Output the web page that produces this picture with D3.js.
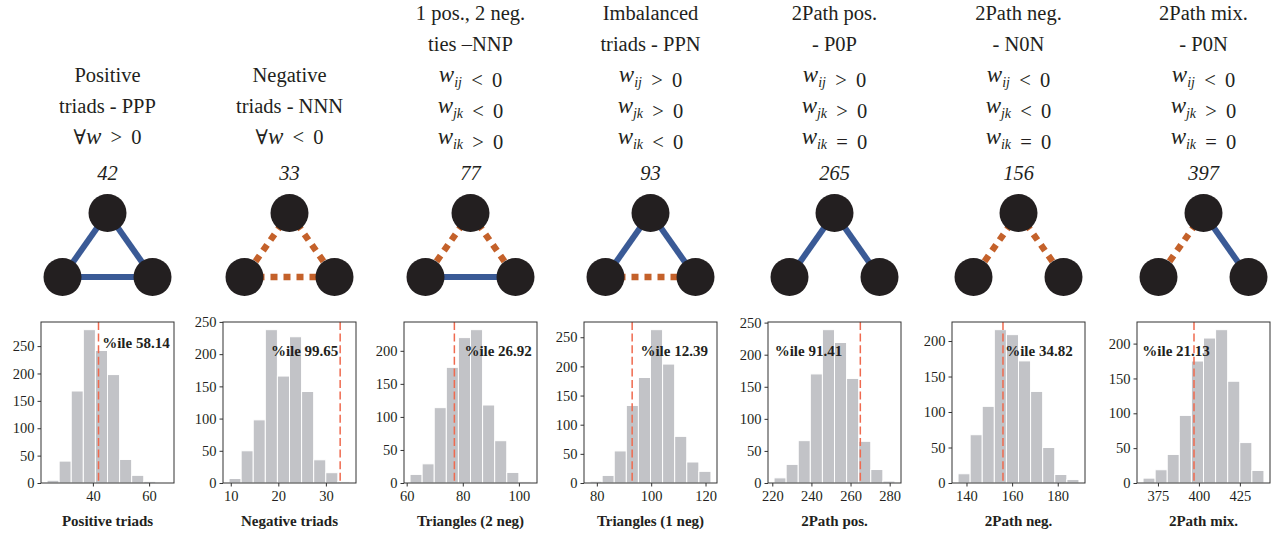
<!DOCTYPE html>
<html>
<head>
<meta charset="utf-8">
<script src="https://cdn.jsdelivr.net/npm/d3@7"></script>
<style>
  body { margin: 0; background: #fff; }
  text { font-family: "Liberation Serif", "DejaVu Serif", serif; fill: #231f20; }
</style>
</head>
<body>
<svg id="chart"></svg>
<script>
// titles above each triad (math lines use w_xy for subscripts)
const titles = [
  ["Positive", "triads - PPP", "∀w > 0"],
  ["Negative", "triads - NNN", "∀w < 0"],
  ["1 pos., 2 neg.", "ties –NNP", "w_ij < 0", "w_jk < 0", "w_ik > 0"],
  ["Imbalanced", "triads - PPN", "w_ij > 0", "w_jk > 0", "w_ik < 0"],
  ["2Path pos.", "- P0P", "w_ij > 0", "w_jk > 0", "w_ik = 0"],
  ["2Path neg.", "- N0N", "w_ij < 0", "w_jk < 0", "w_ik = 0"],
  ["2Path mix.", "- P0N", "w_ij < 0", "w_jk > 0", "w_ik = 0"]
];
const observed = [42, 33, 77, 93, 265, 156, 397];
const percentiles = ["58.14", "99.65", "26.92", "12.39", "91.41", "34.82", "21.13"];
const xLabels = ["Positive triads", "Negative triads", "Triangles (2 neg)", "Triangles (1 neg)",
                 "2Path pos.", "2Path neg.", "2Path mix."];
// edge signs: ij (top-left), jk (top-right), ik (bottom)
const edgeSigns = [
  ["P", "P", "P"], ["N", "N", "N"], ["N", "N", "P"], ["P", "P", "N"],
  ["P", "P", "0"], ["N", "N", "0"], ["N", "P", "0"]
];
// histogram of the null model
const binLo = [23.7, 9.64, 61.2, 77.5, 220.9, 136.3, 365.9];
const binHi = [66.7, 35.06, 104.3, 122, 282.7, 189.3, 439.7];
const counts = [
  [5, 40, 168, 280, 242, 198, 43, 14, 3, 1],
  [7, 50, 98, 238, 166, 227, 142, 36, 16, 2],
  [13, 29, 114, 175, 220, 232, 118, 64, 16, 2],
  [3, 13, 55, 133, 181, 263, 204, 80, 36, 20],
  [8, 29, 66, 170, 239, 219, 163, 65, 21, 3],
  [13, 68, 108, 216, 209, 172, 129, 50, 12, 5],
  [7, 19, 41, 97, 175, 208, 220, 146, 58, 18]
];
const xTicks = [[40, 60], [10, 20, 30], [60, 80, 100], [80, 100, 120],
                [220, 240, 260, 280], [140, 160, 180], [375, 400, 425]];
const yTicks = [
  [0, 50, 100, 150, 200, 250], [0, 50, 100, 150, 200, 250], [0, 50, 100, 150, 200],
  [0, 50, 100, 150, 200, 250], [0, 50, 100, 150, 200, 250], [0, 50, 100, 150, 200],
  [0, 50, 100, 150, 200]
];

// layout
const panelLeft = [41, 223, 404, 584, 768, 952, 1137];
const panelW = 133, plotTop = 322, plotBottom = 483;
const labelFx = [0.46, 0.36, 0.454, 0.424, 0.05, 0.40, 0.04];
const labelFy = [0.84, 0.79, 0.79, 0.79, 0.79, 0.79, 0.79];
const blue = "#3a5a96", orange = "#c4612a", nodeCol = "#231f20";

const svg = d3.select('#chart')
  .attr('width', 1274)
  .attr('height', 535);

function mathLine(textEl, str) {
  const isMath = /w/.test(str) && /[<>=]/.test(str);
  const parts = str.split(/(w_[a-z]+|w)/).filter(s => s.length);
  parts.forEach(p => {
    if (p.startsWith("w_")) {
      textEl.append("tspan").attr("font-style", "italic").attr("font-size", 23).text("w");
      textEl.append("tspan").attr("font-style", "italic").attr("font-size", 14)
        .attr("dy", 5).text(p.slice(2));
      textEl.append("tspan").attr("dy", -5).text("");
    } else if (p === "w" && isMath) {
      textEl.append("tspan").attr("font-style", "italic").attr("font-size", 23).text("w");
    } else {
      textEl.append("tspan").text(isMath ? p.replace(/ /g, "\u2005\u2009") : p);
    }
  });
}

titles.forEach((lines, i) => {
  const cx = panelLeft[i] + panelW / 2;
  const g = svg.append("g");

  // title lines, the last one ends at y=144
  lines.forEach((ln, k) => {
    const t = g.append("text")
      .attr("x", cx)
      .attr("y", 144 - (lines.length - 1 - k) * 31)
      .attr("text-anchor", "middle")
      .attr("font-size", 20.5);
    mathLine(t, ln);
  });
  g.append("text")
    .attr("x", cx).attr("y", 180)
    .attr("text-anchor", "middle")
    .attr("font-size", 20.5)
    .attr("font-style", "italic")
    .text(observed[i]);

  // triad
  const nodes = [[cx, 213], [cx - 45, 277], [cx + 45, 277]];
  const pairs = [[0, 1], [0, 2], [1, 2]];
  pairs.forEach((pr, k) => {
    const s = edgeSigns[i][k];
    if (s === "0") return;
    g.append("line")
      .attr("x1", nodes[pr[0]][0]).attr("y1", nodes[pr[0]][1])
      .attr("x2", nodes[pr[1]][0]).attr("y2", nodes[pr[1]][1])
      .attr("stroke", s === "P" ? blue : orange)
      .attr("stroke-width", s === "P" ? 6 : 6.5)
      .attr("stroke-dasharray", s === "P" ? null : "7,6");
  });
  g.selectAll("circle.node")
    .data(nodes)
    .enter()
    .append("circle")
    .attr("cx", d => d[0]).attr("cy", d => d[1])
    .attr("r", 19)
    .attr("fill", nodeCol);

  // histogram
  const lo = binLo[i], hi = binHi[i];
  const pad = (hi - lo) * 0.05;
  const x = d3.scaleLinear().domain([lo - pad, hi + pad])
    .range([panelLeft[i], panelLeft[i] + panelW]);
  const ymax = d3.max(counts[i]) * 1.05;
  const y = d3.scaleLinear().domain([0, ymax]).range([plotBottom, plotTop]);
  const bw = (hi - lo) / counts[i].length;

  g.selectAll("rect.bar")
    .data(counts[i])
    .enter()
    .append("rect")
    .attr("x", (d, j) => x(lo + j * bw))
    .attr("width", x(lo + bw) - x(lo))
    .attr("y", d => y(d))
    .attr("height", d => plotBottom - y(d))
    .attr("fill", "#c2c3c7")
    .attr("stroke", "#fff")
    .attr("stroke-width", 1);

  g.append("line")
    .attr("x1", x(observed[i])).attr("x2", x(observed[i]))
    .attr("y1", plotTop).attr("y2", plotBottom)
    .attr("stroke", "#ef6a4f")
    .attr("stroke-width", 1.5)
    .attr("stroke-dasharray", "8,3.6");

  g.append("text")
    .attr("x", panelLeft[i] + labelFx[i] * panelW)
    .attr("y", plotBottom - labelFy[i] * (plotBottom - plotTop))
    .attr("font-size", 15)
    .attr("font-weight", "bold")
    .text("%ile " + percentiles[i]);

  const xa = g.append("g")
    .attr("transform", `translate(0,${plotBottom})`)
    .call(d3.axisBottom(x).tickValues(xTicks[i]).tickSize(3.5).tickPadding(4));
  const ya = g.append("g")
    .attr("transform", `translate(${panelLeft[i]},0)`)
    .call(d3.axisLeft(y).tickValues(yTicks[i]).tickSize(3.5).tickPadding(3));
  [xa, ya].forEach(a => {
    a.select(".domain").remove();
    a.selectAll("line").attr("stroke", "#333");
    a.selectAll("text")
      .attr("font-size", 14.5)
      .attr("fill", "#231f20");
  });

  g.append("rect")
    .attr("x", panelLeft[i]).attr("y", plotTop)
    .attr("width", panelW).attr("height", plotBottom - plotTop)
    .attr("fill", "none")
    .attr("stroke", "#333")
    .attr("stroke-width", 1);

  g.append("text")
    .attr("x", panelLeft[i] + panelW / 2)
    .attr("y", 526)
    .attr("text-anchor", "middle")
    .attr("font-size", 15)
    .attr("font-weight", "bold")
    .text(xLabels[i]);
});
</script>
</body>
</html>
